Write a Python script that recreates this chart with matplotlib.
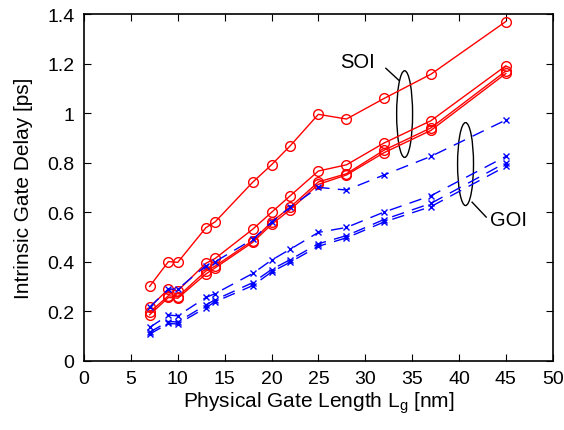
import numpy as np
import matplotlib.pyplot as plt
from matplotlib.patches import Ellipse

plt.rcParams['font.family'] = ['Liberation Sans', 'DejaVu Sans']

# gate lengths (nm)
lg = [7, 9, 10, 13, 14, 18, 20, 22, 25, 28, 32, 37, 45]

# SOI delay curves (ps)
soi_1 = [0.30, 0.40, 0.397, 0.537, 0.561, 0.721, 0.791, 0.868, 0.995, 0.976, 1.059, 1.157, 1.37]
soi_2 = [0.215, 0.289, 0.282, 0.393, 0.413, 0.531, 0.599, 0.666, 0.766, 0.791, 0.879, 0.969, 1.191]
soi_3 = [0.195, 0.262, 0.258, 0.362, 0.382, 0.485, 0.560, 0.620, 0.722, 0.755, 0.850, 0.940, 1.170]
soi_4 = [0.185, 0.255, 0.252, 0.350, 0.375, 0.478, 0.550, 0.610, 0.712, 0.750, 0.840, 0.930, 1.160]

# GOI delay curves (ps)
goi_1 = [0.216, 0.289, 0.289, 0.383, 0.400, 0.490, 0.560, 0.620, 0.700, 0.689, 0.750, 0.825, 0.972]
goi_2 = [0.134, 0.184, 0.181, 0.255, 0.271, 0.352, 0.406, 0.450, 0.518, 0.538, 0.600, 0.666, 0.825]
goi_3 = [0.115, 0.158, 0.156, 0.225, 0.246, 0.315, 0.368, 0.408, 0.472, 0.505, 0.570, 0.635, 0.800]
goi_4 = [0.107, 0.150, 0.148, 0.214, 0.238, 0.303, 0.358, 0.398, 0.462, 0.496, 0.560, 0.622, 0.785]

fig = plt.figure(figsize=(5.64, 4.31), dpi=100)
ax = fig.add_axes([0.149, 0.161, 0.831, 0.804])

for y in [soi_1, soi_2, soi_3, soi_4]:
    ax.plot(lg, y, color='red', lw=1.0, marker='o', ms=7, mfc='none', mec='red', mew=1.0)

for y in [goi_1, goi_2, goi_3, goi_4]:
    ax.plot(lg, y, color='blue', lw=1.0, ls=(0, (9, 6)), marker='x', ms=5, mec='blue', mew=1.0)

# group labels
ax.add_patch(Ellipse((34.2, 0.996), 1.7, 0.35, fill=False, color='black', lw=1.0))
ax.plot([32.2, 33.6], [1.181, 1.132], color='black', lw=1.0)
ax.text(29.2, 1.21, 'SOI', ha='center', va='center', fontsize=14.5)

ax.add_patch(Ellipse((40.7, 0.794), 1.7, 0.335, fill=False, color='black', lw=1.0))
ax.plot([41.4, 42.9], [0.64, 0.58], color='black', lw=1.0)
ax.text(45.3, 0.572, 'GOI', ha='center', va='center', fontsize=14.5)

ax.set_xlim(0, 50)
ax.set_ylim(0, 1.4)
ax.set_xticks(np.arange(0, 51, 5))
ax.set_yticks(np.arange(0, 1.41, 0.2))
ax.set_yticklabels(['0', '0.2', '0.4', '0.6', '0.8', '1', '1.2', '1.4'])
ax.tick_params(direction='in', top=True, right=True, labelsize=14, length=5, pad=7)
for s in ax.spines.values():
    s.set_linewidth(1.2)

ax.set_xlabel('Physical Gate Length L$_\\mathregular{g}$ [nm]', fontsize=15, labelpad=1)
ax.set_ylabel('Intrinsic Gate Delay [ps]', fontsize=15, labelpad=10)

plt.savefig('out.png', dpi=100)
